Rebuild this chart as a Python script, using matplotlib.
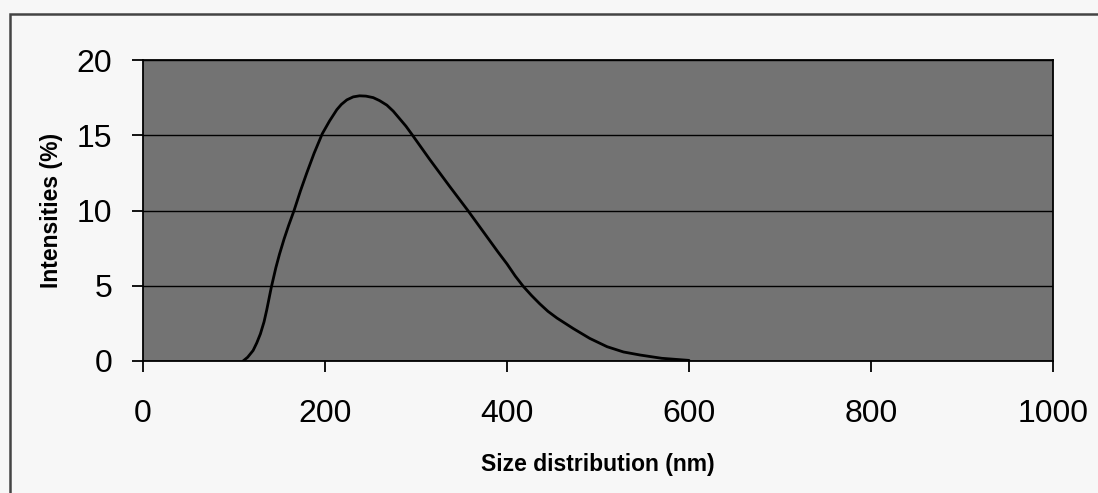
import matplotlib.pyplot as plt
from matplotlib.patches import Rectangle

# valores
size_nm = [110, 115, 121, 125, 129, 133, 136, 141, 146, 150, 155, 160, 166,
           173, 180, 188, 197, 205, 213, 218, 224, 231, 238, 245, 253, 260,
           268, 275, 282, 289, 295, 305, 315, 326, 337, 347, 357, 369, 381,
           390, 400, 409, 418, 427, 436, 445, 455, 464, 473, 491, 510, 528,
           546, 570, 600]
intensity = [0.0, 0.25, 0.7, 1.2, 1.8, 2.6, 3.4, 4.9, 6.2, 7.1, 8.1, 9.0,
             10.0, 11.3, 12.5, 13.8, 15.1, 15.95, 16.7, 17.05, 17.35, 17.55,
             17.62, 17.6, 17.5, 17.3, 17.0, 16.6, 16.1, 15.6, 15.1, 14.25,
             13.4, 12.5, 11.6, 10.8, 10.0, 9.0, 8.0, 7.25, 6.45, 5.65, 4.95,
             4.35, 3.8, 3.3, 2.85, 2.5, 2.15, 1.5, 0.95, 0.6, 0.4, 0.18, 0.04]

x_ticks = [0, 200, 400, 600, 800, 1000]
y_ticks = [0, 5, 10, 15, 20]

plt.rcParams['font.family'] = ['Liberation Sans', 'DejaVu Sans']

fig = plt.figure(figsize=(10.98, 4.93), dpi=100, facecolor='#f7f7f7')

# marco exterior (solo se ve arriba y a la izquierda)
fig.patches.append(Rectangle((10 / 1098, -0.05), 1.2, 1 - 14 / 493 + 0.05,
                             transform=fig.transFigure, fill=False,
                             edgecolor='#444444', linewidth=1.8))

ax = fig.add_axes([143 / 1098, 1 - 361 / 493, 910 / 1098, 301 / 493])
ax.set_facecolor('#737373')

ax.plot(size_nm, intensity, color='black', linewidth=2,
        solid_joinstyle='round', solid_capstyle='round')

ax.set_xlim(0, 1000)
ax.set_ylim(0, 20)
ax.set_xticks(x_ticks)
ax.set_yticks(y_ticks)
ax.yaxis.grid(True, color='black', linewidth=1)
ax.set_axisbelow(True)

for s in ax.spines.values():
    s.set_color('black')
    s.set_linewidth(1.3)

ax.tick_params(axis='x', length=8, width=1.3, pad=19, labelsize=23)
ax.tick_params(axis='y', length=8, width=1.3, pad=14, labelsize=23)

ax.set_xlabel('Size distribution (nm)', fontsize=16.5, fontweight='bold', labelpad=18)
ax.set_ylabel('Intensities (%)', fontsize=16.5, fontweight='bold', labelpad=10)

plt.savefig('out.png', dpi=100, facecolor=fig.get_facecolor())
